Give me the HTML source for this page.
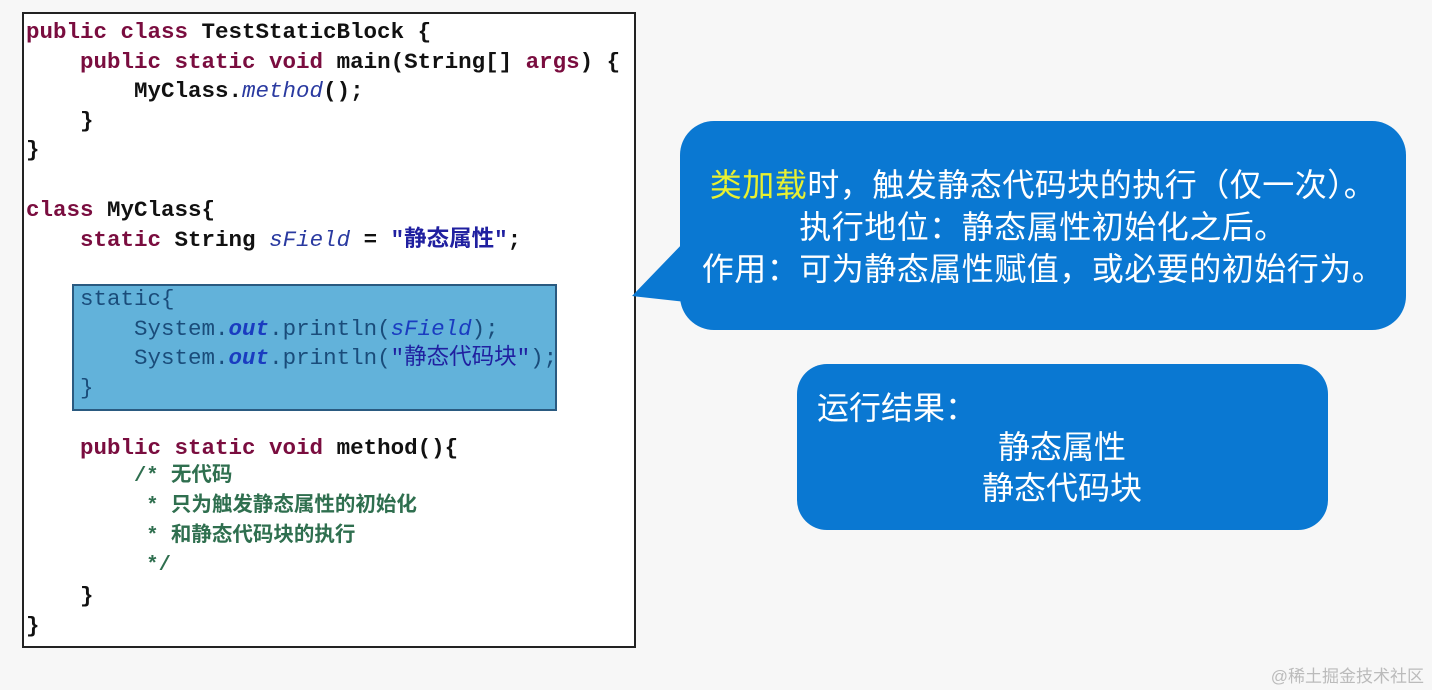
<!DOCTYPE html>
<html><head><meta charset="utf-8"><style>
body{margin:0;width:1432px;height:690px;background:#f7f7f7;position:relative;overflow:hidden;font-family:"Liberation Sans","Noto Sans CJK SC",sans-serif}
.code{position:absolute;left:22px;top:12px;width:610px;height:632px;border:2px solid #222;background:#fff}
.hl{position:absolute;left:72px;top:284px;width:481px;height:123px;background:#62b2da;border:2px solid #2a5a80}
.l{position:absolute;left:26px;font-family:"Liberation Mono","Noto Sans CJK SC",monospace;font-weight:bold;font-size:22.5px;line-height:30px;white-space:pre;color:#111}
.k{color:#7a0d3f}.s{color:#2020a0}.i{font-style:italic;font-weight:normal;color:#2a3aa0}.c{color:#2f6f4f;font-size:20.5px}
.hlt{color:#1a4c7a}.hlt .i{color:#1a3cc0}
.b{position:absolute;background:#0a78d2;border-radius:34px;color:#fff;font-size:32px}
.w{position:absolute;right:8px;top:662px;color:#bbb;font-size:17px}
</style></head><body>
<div class="code"></div>
<div class="hl"></div>
<div class="l" style="top:17px"><span class="k">public class</span> TestStaticBlock {</div>
<div class="l" style="top:47px">    <span class="k">public static void</span> main(String[] <span class="k">args</span>) {</div>
<div class="l" style="top:76px">        MyClass.<span class="i">method</span>();</div>
<div class="l" style="top:106px">    }</div>
<div class="l" style="top:135px">}</div>
<div class="l" style="top:195px"><span class="k">class</span> MyClass{</div>
<div class="l" style="top:225px">    <span class="k">static</span> String <span class="i">sField</span> = <span class="s">"静态属性"</span>;</div>
<div class="l hlt" style="top:284px;font-weight:normal">    static{</div>
<div class="l hlt" style="top:314px;font-weight:normal">        System.<span class="i" style="font-weight:bold">out</span>.println(<span class="i">sField</span>);</div>
<div class="l hlt" style="top:343px;font-weight:normal">        System.<span class="i" style="font-weight:bold">out</span>.println(<span class="s">"静态代码块"</span>);</div>
<div class="l hlt" style="top:373px;font-weight:normal">    }</div>
<div class="l" style="top:433px">    <span class="k">public static void</span> method(){</div>
<div class="l c" style="top:462px;left:134px">/* 无代码</div>
<div class="l c" style="top:492px;left:134px"> * 只为触发静态属性的初始化</div>
<div class="l c" style="top:522px;left:134px"> * 和静态代码块的执行</div>
<div class="l c" style="top:551px;left:134px"> */</div>
<div class="l" style="top:581px">    }</div>
<div class="l" style="top:611px">}</div>

<svg style="position:absolute;left:630px;top:230px" width="60" height="80"><polygon points="2,66 56,10 56,72" fill="#0a78d2"/></svg>
<div class="b" style="left:680px;top:121px;width:726px;height:209px">
<div style="position:absolute;left:0;right:0;top:43px;text-align:center;line-height:42px;letter-spacing:0.5px"><span style="color:#e8f030">类加载</span>时，触发静态代码块的执行（仅一次）。<br>执行地位：静态属性初始化之后。<br>作用：可为静态属性赋值，或必要的初始行为。</div>
</div>
<div class="b" style="left:797px;top:364px;width:531px;height:166px;border-radius:30px">
<div style="position:absolute;left:20px;top:24px;line-height:40px">运行结果：</div>
<div style="position:absolute;left:0;width:530px;top:63px;text-align:center;line-height:41px">静态属性<br>静态代码块</div>
</div>
<div class="w">@稀土掘金技术社区</div>
</body></html>
